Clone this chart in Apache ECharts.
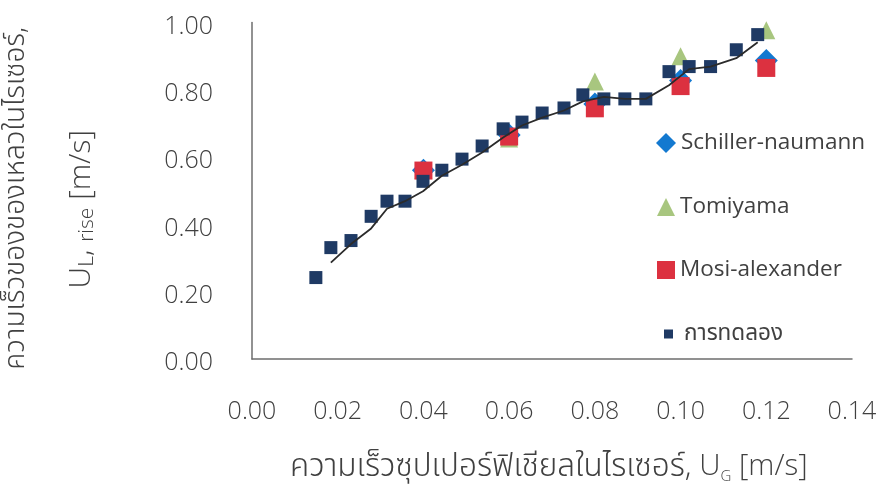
<!DOCTYPE html>
<html>
<head>
<meta charset="utf-8">
<script src="https://cdn.jsdelivr.net/npm/echarts@6/dist/echarts.min.js"></script>
<style>
  html, body { margin: 0; padding: 0; background: #ffffff; }
  #chart { width: 883px; height: 490px; }
</style>
</head>
<body>
<div id="chart"></div>
<script>
// Superficial gas velocity in the riser [m/s]
const expX = [0.0149, 0.0184, 0.0231, 0.0278, 0.0315, 0.0357, 0.0399, 0.0443, 0.0490, 0.0537, 0.0586, 0.0630,
              0.0677, 0.0728, 0.0772, 0.0821, 0.0870, 0.0919, 0.0973, 0.1020, 0.1070, 0.1130, 0.1180];
// Measured liquid rise velocity [m/s]
const expY = [0.242, 0.331, 0.352, 0.424, 0.469, 0.469, 0.528, 0.561, 0.594, 0.633, 0.684, 0.704,
              0.731, 0.746, 0.785, 0.773, 0.773, 0.773, 0.854, 0.869, 0.869, 0.919, 0.964];

// Model predictions
const modelX   = [0.04, 0.06, 0.08, 0.10, 0.12];
const schiller = [0.561, 0.666, 0.758, 0.828, 0.887];
const tomiyama = [0.562, 0.655, 0.825, 0.900, 0.977];
const mosi     = [0.560, 0.661, 0.745, 0.811, 0.865];

const seriesNames = ['Schiller-naumann', 'Tomiyama', 'Mosi-alexander', 'การทดลอง'];
const xTicks = { min: 0, max: 0.14, step: 0.02 };
const yTicks = { min: 0, max: 1.0, step: 0.2 };

const FONT = "'Open Sans', 'Noto Sans Thai', 'Noto Sans Thai Looped', 'Sarabun', 'Loma', 'Garuda', 'Waree', 'Noto Sans', sans-serif";
const TEXT = '#404040';

const pairs = (xs, ys) => xs.map((x, i) => [x, ys[i]]);

// Two-period moving average trendline of the measured points
const trend = expX.slice(1).map((x, i) => [x, (expY[i] + expY[i + 1]) / 2]);

const chart = echarts.init(document.getElementById('chart'), null, { renderer: 'canvas' });

const legendBase = {
  orient: 'vertical',
  padding: 0,
  selectedMode: false,
  textStyle: { fontFamily: FONT, fontSize: 22.5, color: TEXT, lineHeight: 24 }
};

chart.setOption({
  animation: false,
  backgroundColor: '#ffffff',
  grid: { left: 252, right: 31, top: 22.5, bottom: 131, containLabel: false, outerBoundsMode: 'none' },
  xAxis: {
    type: 'value',
    min: xTicks.min, max: xTicks.max, interval: xTicks.step,
    axisLine: { show: true, onZero: false, lineStyle: { color: '#6e6e6e', width: 1.5 } },
    axisTick: { show: false },
    splitLine: { show: false },
    axisLabel: { fontFamily: FONT, fontSize: 25, fontWeight: 300, color: TEXT, margin: 40,
                 formatter: v => v.toFixed(2) }
  },
  yAxis: {
    type: 'value',
    min: yTicks.min, max: yTicks.max, interval: yTicks.step,
    axisLine: { show: true, onZero: false, lineStyle: { color: '#6e6e6e', width: 1.5 } },
    axisTick: { show: false },
    splitLine: { show: false },
    axisLabel: { fontFamily: FONT, fontSize: 25, fontWeight: 300, color: TEXT, margin: 39,
                 verticalAlign: 'top', lineHeight: 8, formatter: v => v.toFixed(2) }
  },
  graphic: [
    {
      // y-axis title, first line
      type: 'text', left: 2, top: 27, rotation: Math.PI / 2,
      style: { text: 'ความเร็วของของเหลวในไรเซอร์,', fontFamily: FONT, fontSize: 28, fontWeight: 300, fill: TEXT }
    },
    {
      // y-axis title, second line
      type: 'text', left: 66, top: 130, rotation: Math.PI / 2,
      style: {
        text: 'U{sub|L}, {sub|rise} [m/s]',
        fontFamily: FONT, fontSize: 30, fontWeight: 300, fill: TEXT,
        rich: { sub: { fontFamily: FONT, fontSize: 21, fontWeight: 300, fill: TEXT, padding: [13, 0, 0, 0] } }
      }
    },
    {
      // x-axis title
      type: 'text', left: 290, top: 451,
      style: {
        text: '{th|ความเร็วซุปเปอร์ฟิเชียลในไรเซอร์,} U{sub|G} [m/s]',
        fontFamily: FONT, fontSize: 29.5, fontWeight: 300, fill: TEXT,
        rich: {
          th: { fontFamily: FONT, fontSize: 31.5, fontWeight: 300, fill: TEXT },
          sub: { fontFamily: FONT, fontSize: 15, fontWeight: 300, fill: TEXT, padding: [19, 0, 0, 0] }
        }
      }
    }
  ],
  legend: [
    Object.assign({}, legendBase, { data: [{ name: seriesNames[0], icon: 'diamond' }],
      left: 656, top: 131, itemWidth: 20, itemHeight: 20 }),
    Object.assign({}, legendBase, { data: [{ name: seriesNames[1], icon: 'triangle' }],
      left: 657, top: 195, itemWidth: 18, itemHeight: 18 }),
    Object.assign({}, legendBase, { data: [{ name: seriesNames[2], icon: 'rect' }],
      left: 657, top: 258, itemWidth: 18, itemHeight: 18 }),
    Object.assign({}, legendBase, { data: [{ name: seriesNames[3], icon: 'rect' }],
      left: 664, top: 322, itemWidth: 9, itemHeight: 9,
      textStyle: Object.assign({}, legendBase.textStyle, { padding: [0, 0, 0, 6] }) })
  ],
  series: [
    {
      name: seriesNames[0], type: 'scatter', data: pairs(modelX, schiller),
      symbol: 'diamond', symbolSize: 23, itemStyle: { color: '#1379d0', opacity: 1 }, z: 2
    },
    {
      name: seriesNames[1], type: 'scatter', data: pairs(modelX, tomiyama),
      symbol: 'triangle', symbolSize: 18, itemStyle: { color: '#a8c67f', opacity: 1 }, z: 3
    },
    {
      name: seriesNames[2], type: 'scatter', data: pairs(modelX, mosi),
      symbol: 'rect', symbolSize: 18, itemStyle: { color: '#dc3140', opacity: 1 }, z: 4
    },
    {
      name: seriesNames[3], type: 'scatter', data: pairs(expX, expY),
      symbol: 'rect', symbolSize: 13, itemStyle: { color: '#1f3a64', opacity: 1 }, z: 5
    },
    {
      name: 'trend', type: 'line', data: trend, showSymbol: false, symbol: 'none',
      lineStyle: { color: '#2b2b2b', width: 1.8 }, z: 6, silent: true
    }
  ]
});
</script>
</body>
</html>
